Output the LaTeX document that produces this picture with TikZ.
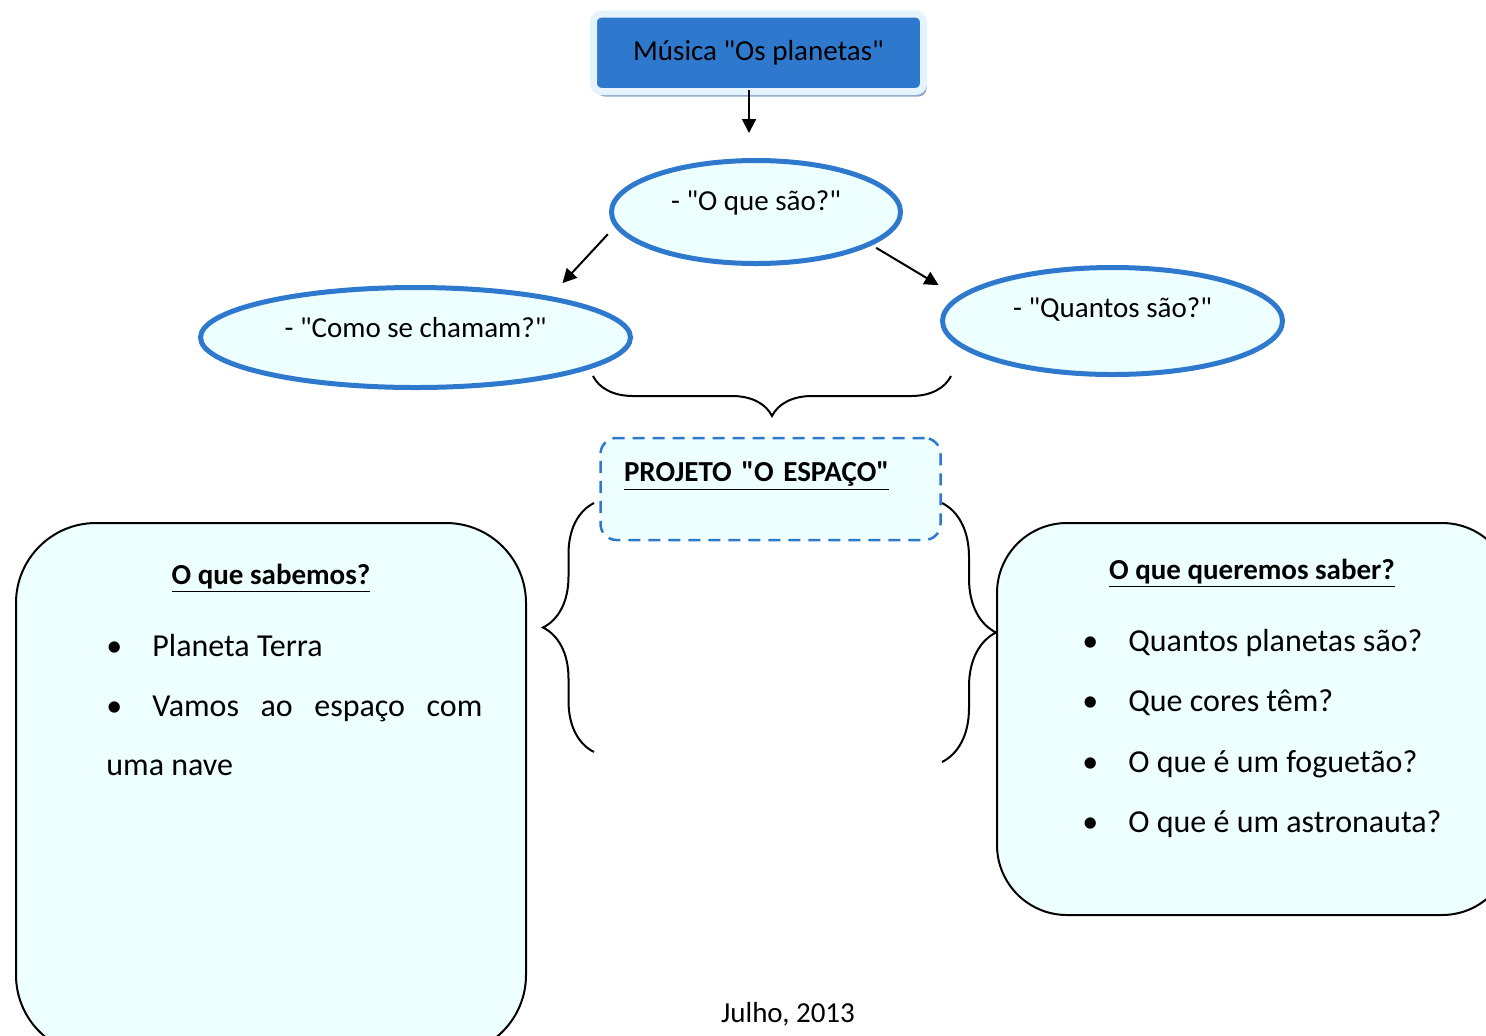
\documentclass[tikz,border=0pt]{standalone}
\usepackage{fontspec}
\setmainfont{Carlito}[Ligatures=TeXOff]
\usetikzlibrary{shapes.geometric,arrows.meta,shadows,decorations.pathreplacing}
\definecolor{kblue}{RGB}{46,121,205}
\definecolor{kedge}{RGB}{228,243,252}
\definecolor{kshadow}{RGB}{142,166,202}
\definecolor{kcyan}{RGB}{238,255,255}
\newcommand{\marca}{\makebox[23pt][l]{•}}
\begin{document}
\begin{tikzpicture}[x=0.5pt,y=-0.5pt,>={Triangle[length=7pt,width=7pt]}]
\tikzstyle{every node}=[inner sep=0pt]
\tikzstyle{balao}=[draw=kblue,fill=kcyan,ellipse,line width=2.5pt,
font=\fontsize{14.5}{17}\selectfont]
\tikzstyle{caixa}=[draw,fill=kcyan,line width=1pt]
\tikzstyle{chave}=[decorate,line width=1pt]
\tikzstyle{texto}=[anchor=base west,font=\fontsize{16}{19}\selectfont]
\tikzstyle{titulo}=[anchor=base,font=\bfseries\fontsize{14.5}{17}\selectfont]

\useasboundingbox (0,0) rectangle (1486,1035);
\clip (0,0) rectangle (1486,1035);

\draw (758.5,52.75) node (musica) [draw=kedge,fill=kblue,line width=3.5pt,
rounded corners=4pt,minimum width=165pt,minimum height=38.75pt,
drop shadow={shadow xshift=1.5pt,shadow yshift=-2.5pt,fill=kshadow,opacity=1},
font=\fontsize{14.5}{17}\selectfont] {Música "Os planetas"};

\draw (756,212) node (oque) [balao,minimum width=144.5pt,minimum height=51.5pt]
{\raisebox{4.5pt}[\height][\depth]{- "O que são?"}};
\draw (415.5,337.5) node (como) [balao,minimum width=215pt,minimum height=50pt]
{\raisebox{4.75pt}[\height][\depth]{- "Como se chamam?"}};
\draw (1112.5,321) node (quantos) [balao,minimum width=170pt,minimum height=53.5pt]
{\raisebox{5.5pt}[\height][\depth]{- "Quantos são?"}};

\draw [->,line width=1pt,shorten <=-2.5pt,shorten >=12.5pt]
([xshift=-4.75pt]musica.south) -- ([xshift=-3.5pt]oque.north);
\draw [->,line width=1pt,shorten <=5pt,shorten >=9pt] (oque.186.6) -- (como.17.6);
\draw [->,line width=1pt,shorten <=2.5pt,shorten >=11pt] (oque.344.6) -- (quantos.171.1);

% chavetas
\coordinate (ca) at (951,376);
\coordinate (cb) at (593,376);
\draw [chave,decoration={brace,amplitude=20pt}] (ca) -- (cb);
\coordinate (cc) at (594,752);
\coordinate (cd) at (594,503);
\draw [chave,decoration={brace,amplitude=25.5pt}] (cc) -- (cd);
\coordinate (ce) at (942,503);
\coordinate (cf) at (942,762);
\draw [chave,decoration={brace,amplitude=27pt}] (ce) -- (cf);

\draw (770.5,489) node (projeto) [draw=kblue,fill=kcyan,line width=1.25pt,
dash pattern=on 6pt off 4pt,rounded corners=8pt,minimum width=170pt,
minimum height=51pt,text width=146.5pt,align=left,
font=\bfseries\fontsize{14.5}{17}\selectfont]
{\raisebox{6.5pt}[\height][\depth]{\underline{PROJETO "O ESPAÇO"}}};

% caixas
\draw (271,789) node (sabemos) [caixa,rounded corners=40pt,
minimum width=255pt,minimum height=266pt] {};
\draw (1254.5,719) node (queremos) [caixa,rounded corners=35pt,
minimum width=257.5pt,minimum height=196pt] {};

\draw (271,584) node (tsab) [titulo] {\underline{O que sabemos?}};
\draw (106,656) node (s1) [texto] {\marca Planeta Terra};
\draw (106,716) node (s2) [texto] {\makebox[188pt][s]{\marca Vamos ao espaço com}};
\draw (106,775) node (s3) [texto] {uma nave};

\draw (1252,579) node (tque) [titulo] {\underline{O que queremos saber?}};
\draw (1082,651) node (q1) [texto] {\marca Quantos planetas são?};
\draw (1082,711) node (q2) [texto] {\marca Que cores têm?};
\draw (1082,772) node (q3) [texto] {\marca O que é um foguetão?};
\draw (1082,832) node (q4) [texto] {\marca O que é um astronauta?};

\draw (788,1022) node (data) [anchor=base,font=\fontsize{14.5}{17}\selectfont] {Julho, 2013};
\end{tikzpicture}
\end{document}
